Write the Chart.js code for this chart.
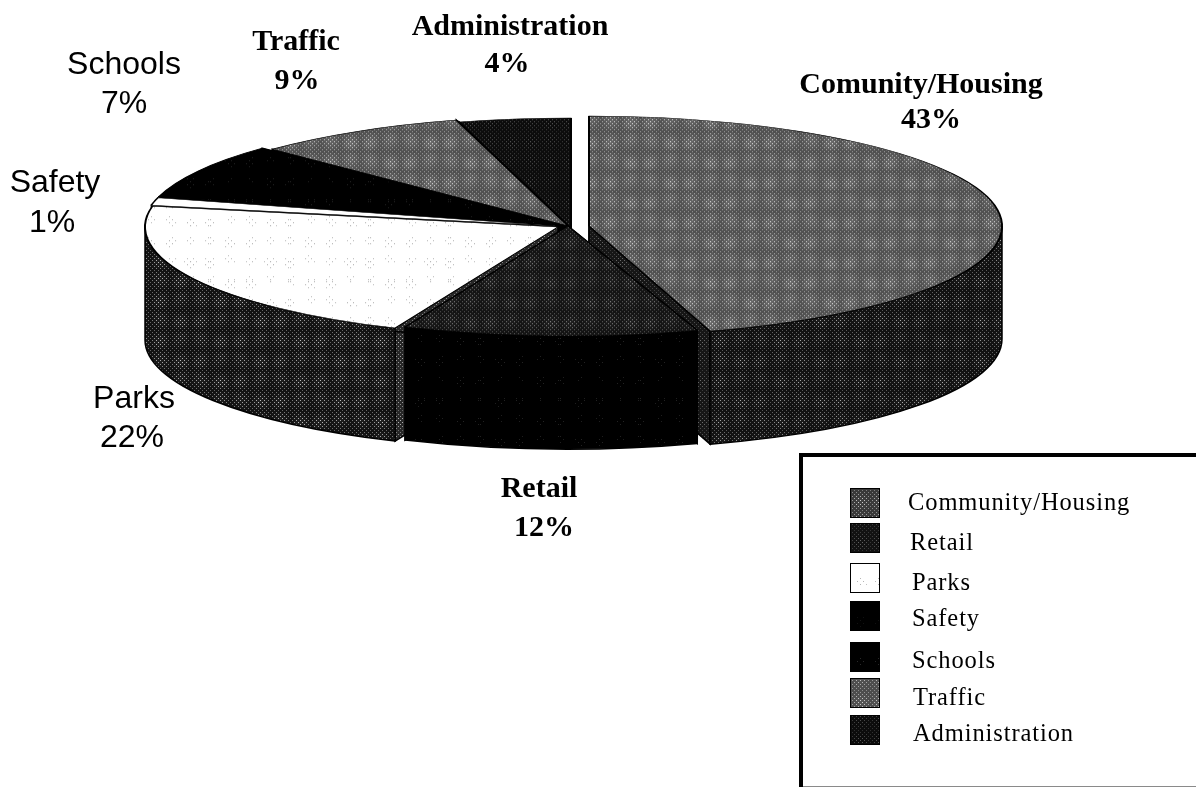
<!DOCTYPE html>
<html>
<head>
<meta charset="utf-8">
<style>html,body{margin:0;padding:0;background:#fff;overflow:hidden}canvas{display:block;filter:blur(0.45px)}</style>
<script src="https://cdn.jsdelivr.net/npm/chart.js@4/dist/chart.umd.js"></script>
</head>
<body>
<canvas id="c" width="1196" height="787"></canvas>
<script>
// ---- data ----
const categories = ['Community/Housing','Retail','Parks','Safety','Schools','Traffic','Administration'];
const shares = [43,12,22,1,7,9,4];
const calloutNames = ['Comunity/Housing','Retail','Parks','Safety','Schools','Traffic','Administration'];

// ---- projection of the flat pie into its tilted view ----
const SQUASH = 110/413, RADIUS = 413, DEPTH = 113;
const HUB = {x:568, y:226};
const sliceShiftX = [21,0,-10,-11,-10,0,3];
const sliceShiftY = [0,0,1,0,-1,0,2];
const startNudgeDeg = [0,3.8,1.2,-2,-1.7,2,-1];   // perspective correction of each slice's edges
const endNudgeDeg   = [5,1.2,-2,-1.7,2,-1,0];
const wallOrder = [6,5,4,3,2,0,1];

// ---- textures ----
function tile(o){
  const S=80,cv=document.createElement('canvas');cv.width=cv.height=S;
  const g=cv.getContext('2d'),im=g.createImageData(S,S);
  for(let y=0;y<S;y++)for(let x=0;x<S;x++){
    const cell=Math.sqrt((0.5+0.5*Math.cos(2*Math.PI*x/20))*(0.5+0.5*Math.cos(2*Math.PI*y/20)));
    const m=cell*(0.68+0.32*Math.cos(2*Math.PI*x/80+1)*Math.cos(2*Math.PI*y/40+2));
    const p=o.pitch||4, h=p/2;
    const dot=(x%p===0&&y%p===0)||(x%p===h&&y%p===h);
    let v=o.dark;
    if(dot&&m>=(o.min||0)) v=o.dark+(o.light-o.dark)*(0.4+0.6*m);
    else if(!o.flat) v=o.dark+(o.halo||0)*(m-.4);
    const i=(y*S+x)*4;im.data[i]=im.data[i+1]=im.data[i+2]=v;im.data[i+3]=255;
  }
  g.putImageData(im,0,0);
  return g.createPattern(cv,'repeat');
}
const K=new DOMMatrix().scale(1,1/SQUASH);
function flat(o){const p=tile(o);p.setTransform(K);return p;}
const topFills=[
  flat({dark:92,light:255,halo:30}),
  flat({dark:25,light:170,halo:14}),
  flat({dark:255,light:150,pitch:6,min:.42,flat:true}),
  '#ffffff',
  flat({dark:0,light:45,pitch:6,min:.5,flat:true}),
  flat({dark:92,light:255,halo:30}),
  flat({dark:12,light:115,pitch:4})
];
const swatchFills=[
  tile({dark:60,light:225,halo:10}),
  tile({dark:18,light:110}),
  tile({dark:255,light:165,pitch:6,min:.42,flat:true}),
  tile({dark:0,light:22,pitch:6,min:.5,flat:true}),
  tile({dark:0,light:50,pitch:6,min:.5,flat:true}),
  tile({dark:80,light:225,halo:10}),
  tile({dark:12,light:100})
];
const wallFills=[
  tile({dark:22,light:190,halo:14}),
  tile({dark:0,light:42,pitch:6,min:.5,flat:true}),
  tile({dark:25,light:215,halo:20}),
  '#000','#000','#000','#000'
];
const sideFills=[
  tile({dark:22,light:120}),
  '#000',
  tile({dark:40,light:205}),
  '#000','#000','#000','#000'
];

// ---- text placement ----
const serifBold='bold 30px "Liberation Serif"', sans='32px "Liberation Sans"';
const calloutFont=[serifBold,serifBold,sans,sans,sans,serifBold,serifBold];
const calloutName=[[921,93],[539,497],[134,408],[55,192],[124,74],[296,50],[510,35]];
const calloutPct =[[931,128],[544,536],[132,447],[52,232],[124,113],[297,89],[507,72]];
const swatchY=[488,523,563,601,642,678,715];
const legendTextX=[908,910,912,912,912,913,913];
const legendBase=[510,550,590,626,668,705,741];

const pie3d={
  id:'pie3d',
  afterDatasetsUpdate(chart){
    const arcs=chart.getDatasetMeta(0).data;
    arcs.forEach((a,i)=>{
      const s=a.startAngle+startNudgeDeg[i]*Math.PI/180, e=a.endAngle+endNudgeDeg[i]*Math.PI/180;
      a.startAngle=s;a.endAngle=e;a.circumference=e-s;
      a.x+=sliceShiftX[i];a.y+=sliceShiftY[i]/SQUASH;
    });
  },
  beforeDatasetsDraw(chart){
    const {ctx,chartArea:ca}=chart, arcs=chart.getDatasetMeta(0).data;
    const cx=(ca.left+ca.right)/2, cy=(ca.top+ca.bottom)/2;
    ctx.save();ctx.lineWidth=1.5;ctx.strokeStyle='#000';
    wallOrder.forEach(i=>{
      const a=arcs[i];
      const X=HUB.x+a.x-cx, Y=HUB.y+(a.y-cy)*SQUASH, R=RADIUS, RY=RADIUS*SQUASH;
      [a.startAngle,a.endAngle].forEach(t=>{
        ctx.beginPath();ctx.moveTo(X,Y);ctx.lineTo(X+R*Math.cos(t),Y+RY*Math.sin(t));
        ctx.lineTo(X+R*Math.cos(t),Y+RY*Math.sin(t)+DEPTH);ctx.lineTo(X,Y+DEPTH);ctx.closePath();
        ctx.fillStyle=sideFills[i];ctx.fill();ctx.stroke();
      });
      const s=Math.max(a.startAngle,0), e=Math.min(a.endAngle,Math.PI);
      if(s<e){
        ctx.beginPath();ctx.ellipse(X,Y,R,RY,0,s,e);
        ctx.ellipse(X,Y+DEPTH,R,RY,0,e,s,true);ctx.closePath();
        ctx.fillStyle=wallFills[i];ctx.fill();ctx.stroke();
      }
    });
    ctx.restore();
    ctx.save();
    ctx.translate(HUB.x,HUB.y);ctx.scale(1,SQUASH);ctx.translate(-cx,-cy);
  },
  afterDatasetsDraw(chart){
    const {ctx}=chart;
    ctx.restore();
    ctx.save();
    ctx.fillStyle='#000';ctx.textBaseline='alphabetic';ctx.textAlign='center';
    categories.forEach((c,i)=>{
      ctx.font=calloutFont[i];
      ctx.fillText(calloutNames[i],calloutName[i][0],calloutName[i][1]);
      ctx.fillText(shares[i]+'%',calloutPct[i][0],calloutPct[i][1]);
    });
    // key panel
    ctx.fillStyle='#000';
    ctx.fillRect(799,453,397,4);ctx.fillRect(799,453,4,334);
    ctx.fillStyle='#8a8a8a';ctx.fillRect(803,786,393,1);
    ctx.textAlign='left';ctx.font='24.5px "Liberation Serif"';
    categories.forEach((c,i)=>{
      ctx.fillStyle=swatchFills[i];ctx.fillRect(850,swatchY[i],30,30);
      ctx.strokeStyle='#000';ctx.lineWidth=1;ctx.strokeRect(850.5,swatchY[i]+.5,29,29);
      ctx.fillStyle='#000';
      ctx.letterSpacing='0.9px';
      ctx.fillText(c,legendTextX[i],legendBase[i]);
    });
    ctx.letterSpacing='0px';
    ctx.restore();
  }
};

new Chart(document.getElementById('c'),{
  type:'pie',
  data:{labels:categories,datasets:[{data:shares,backgroundColor:topFills,borderColor:'#000',borderWidth:2,clip:false}]},
  options:{
    responsive:false,animation:false,radius:RADIUS,
    layout:{padding:0},
    plugins:{legend:{display:false},tooltip:{enabled:false}}
  },
  plugins:[pie3d]
});
</script>
</body>
</html>
